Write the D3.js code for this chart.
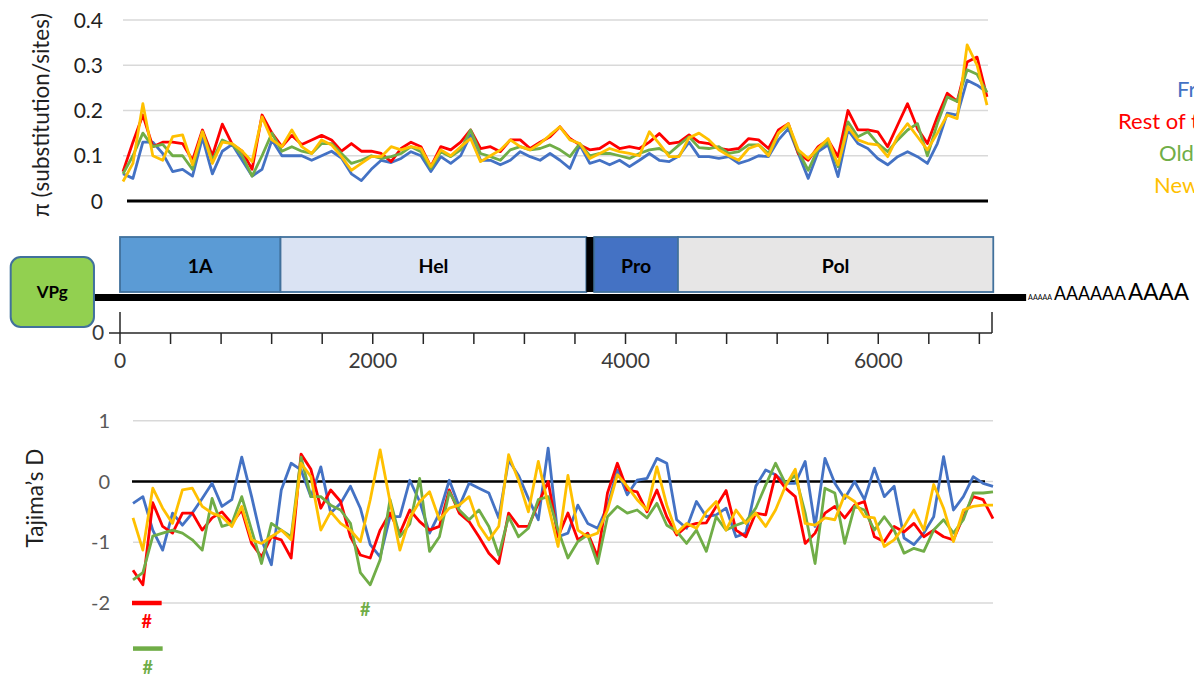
<!DOCTYPE html>
<html>
<head>
<meta charset="utf-8">
<script src="https://cdn.jsdelivr.net/npm/d3@7"></script>
<style>
  body { margin: 0; background: #fff; }
  svg { display: block; }
  text { font-family: Lato, "Open Sans", sans-serif; }
</style>
</head>
<body>
<svg id="chart" width="1194" height="681"></svg>
<script>
// ---- datos ----
const seriesNames = ["France", "Rest of the world", "Old World", "New World"];
const seriesColors = ["#4472c4", "#ff0000", "#70ad47", "#ffc000"];

// nucleotide diversity (pi), one value per sliding window
const piFrance = [0.06,0.05,0.13,0.13,0.105,0.065,0.07,0.055,0.14,0.06,0.11,0.125,0.09,0.055,0.07,0.135,0.1,0.1,0.1,0.09,0.1,0.11,0.095,0.06,0.045,0.07,0.09,0.085,
  0.094,0.109,0.1,0.065,0.098,0.083,0.1,0.146,0.09,0.09,0.08,0.09,0.109,0.098,0.09,0.105,0.09,0.072,0.124,0.083,0.09,0.08,0.09,0.076,0.09,0.105,0.09,0.087,0.1,0.13,0.098,
  0.098,0.094,0.098,0.083,0.09,0.1,0.098,0.135,0.16,0.105,0.05,0.109,0.124,0.054,0.157,0.127,0.116,0.094,0.08,0.098,0.109,0.098,0.083,0.127,0.194,0.19,0.267,0.256,0.24];
const piRest = [0.065,0.13,0.19,0.12,0.13,0.13,0.127,0.09,0.157,0.1,0.17,0.125,0.11,0.07,0.19,0.15,0.12,0.145,0.125,0.135,0.145,0.135,0.11,0.127,0.11,0.11,0.105,0.087,
  0.116,0.13,0.12,0.076,0.12,0.113,0.13,0.157,0.116,0.12,0.109,0.135,0.135,0.116,0.13,0.142,0.164,0.138,0.124,0.113,0.116,0.13,0.116,0.12,0.116,0.13,0.149,0.127,0.13,0.146,0.13,
  0.127,0.116,0.113,0.116,0.138,0.135,0.116,0.157,0.171,0.105,0.09,0.12,0.135,0.098,0.2,0.157,0.157,0.153,0.12,0.168,0.215,0.16,0.127,0.186,0.238,0.22,0.307,0.318,0.23];
const piOld = [0.06,0.1,0.15,0.12,0.125,0.1,0.1,0.07,0.153,0.09,0.135,0.125,0.1,0.055,0.1,0.15,0.11,0.12,0.11,0.105,0.127,0.127,0.105,0.083,0.09,0.1,0.094,0.098,
  0.105,0.12,0.109,0.072,0.109,0.098,0.113,0.157,0.105,0.098,0.09,0.113,0.12,0.113,0.116,0.124,0.113,0.098,0.127,0.1,0.105,0.105,0.1,0.094,0.105,0.113,0.116,0.105,0.124,0.142,0.118,
  0.116,0.12,0.105,0.109,0.124,0.124,0.105,0.15,0.168,0.109,0.068,0.116,0.13,0.076,0.175,0.142,0.153,0.127,0.109,0.135,0.157,0.171,0.1,0.171,0.23,0.22,0.29,0.28,0.24];
const piNew = [0.043,0.083,0.215,0.1,0.09,0.142,0.146,0.08,0.153,0.083,0.13,0.127,0.11,0.087,0.186,0.135,0.12,0.157,0.12,0.105,0.135,0.124,0.098,0.068,0.083,0.098,0.098,0.12,
  0.113,0.12,0.116,0.076,0.113,0.1,0.12,0.138,0.087,0.1,0.113,0.135,0.12,0.113,0.127,0.146,0.164,0.135,0.127,0.094,0.105,0.116,0.109,0.105,0.1,0.153,0.127,0.098,0.098,0.14,0.15,
  0.135,0.113,0.1,0.09,0.116,0.124,0.1,0.15,0.171,0.113,0.094,0.116,0.138,0.08,0.164,0.135,0.127,0.124,0.098,0.142,0.171,0.142,0.113,0.15,0.19,0.182,0.345,0.3,0.212];

// Tajima's D, one value per sliding window
const tdFrance = [-0.36,-0.25,-0.8,-1.13,-0.52,-0.72,-0.52,-0.28,-0.03,-0.41,-0.3,0.4,-0.25,-0.96,-1.37,-0.14,0.3,0.19,-0.25,0.24,-0.52,-0.36,-0.08,-0.44,-1.04,-1.24,-0.58,-0.58,0.02,
  -0.33,-0.85,-0.52,0.02,-0.41,-0.03,-0.11,-0.19,-0.6,0.35,0.1,-0.28,-0.63,0.55,-0.91,-0.85,-0.39,-0.69,-0.77,-0.41,0.19,-0.22,0.02,0.05,0.38,0.3,-0.63,-0.77,-0.33,-0.58,
  -0.55,-0.44,-0.91,-0.85,-0.08,0.19,0.11,-0.03,-0.03,0.33,-0.74,0.38,-0.03,-0.28,0,-0.3,0.22,-0.25,-0.08,-0.93,-1.04,-0.85,-0.58,0.41,-0.47,-0.25,0.08,-0.03,-0.08];
const tdRest = [-1.46,-1.7,-0.35,-0.74,-0.85,-0.52,-0.52,-0.8,-0.6,-0.5,-0.69,-0.47,-1.02,-1.24,-0.91,-0.96,-1.26,0.45,0.2,-0.44,-0.14,-0.33,-0.91,-1.21,-1.26,-0.8,-0.52,-0.85,-0.47,
  -0.66,-0.8,-0.74,-0.14,-0.52,-0.66,-0.91,-1.18,-1.35,-0.52,-0.74,-0.74,-0.36,0,-0.91,-0.52,-0.96,-0.85,-1.24,-0.19,0.3,-0.14,-0.17,-0.5,-0.14,-0.58,-0.88,-0.74,-0.69,-0.68,
  -0.41,-0.15,-0.8,-0.91,-0.52,-0.55,0.11,-0.11,-0.25,-1.02,-0.85,-0.52,-0.41,-0.6,-0.39,-0.33,-0.91,-0.99,-0.74,-0.83,-0.69,-0.91,-0.8,-0.91,-0.96,-0.58,-0.25,-0.3,-0.61];
const tdOld = [-1.62,-1.5,-0.9,-0.85,-0.8,-0.85,-0.96,-1.13,-0.28,-0.74,-0.69,-0.25,-0.8,-1.35,-0.69,-0.8,-0.91,0.4,-0.25,-0.25,-0.39,-0.47,-0.69,-1.5,-1.7,-1.29,-0.3,-0.91,-0.7,
  0.05,-1.15,-0.91,-0.17,-0.47,-0.63,-0.47,-0.74,-1.21,-0.58,-0.91,-0.77,-0.3,-0.25,-0.8,-1.26,-0.99,-0.88,-1.35,-0.58,-0.41,-0.52,-0.47,-0.6,-0.36,-0.72,-0.82,-1.02,-0.8,-1.15,
  -0.58,-0.8,-0.72,-0.66,-0.44,-0.06,0.3,-0.03,0.1,-0.52,-1.35,-0.11,-0.19,-1.02,-0.41,-0.47,-0.8,-0.58,-0.8,-1.18,-1.1,-1.15,-0.8,-0.63,-0.85,-0.63,-0.19,-0.19,-0.17];
const tdNew = [-0.6,-1.13,-0.11,-0.44,-0.69,-0.14,-0.11,-0.41,-0.52,-0.58,-0.74,-0.41,-0.96,-1.02,-0.91,-0.8,-0.96,0.3,0.08,-0.8,-0.5,-0.69,-0.8,-0.99,-0.3,0.52,-0.33,-1.13,-0.6,
  -0.33,-0.17,-0.63,-0.44,-0.39,-0.25,-0.72,-0.96,-0.74,0.44,0.02,-0.5,0.33,-0.39,-1.07,0.1,-0.8,-0.91,-0.85,-0.47,0.11,-0.08,-0.3,-0.47,0.24,-0.39,-0.85,-0.69,-0.77,-0.5,
  -0.33,-0.8,-0.47,-0.69,-0.52,-0.74,-0.47,-0.08,0.2,-0.69,-0.72,-0.6,-0.63,-0.22,-0.33,-0.58,-0.6,-1.07,-0.96,-0.74,-0.47,-0.8,-0.05,-0.44,-0.99,-0.47,-0.41,-0.39,-0.39];

const piTicks = [0, 0.1, 0.2, 0.3, 0.4];
const piTickLabels = ["0", "0.1", "0.2", "0.3", "0.4"];
const tdTicks = [-2, -1, 0, 1];
const tdTickLabels = ["-2", "-1", "0", "1"];

// genome map (nt)
const genomeMax = 6900;
const genomeTicks = d3.range(0, 6801, 400);
const genomeTickLabels = [0, 2000, 4000, 6000];
const genes = [
  { name: "1A",  start: 0,    end: 1270, fill: "#5b9bd5" },
  { name: "Hel", start: 1270, end: 3690, fill: "#dae3f3" },
  { name: "",    start: 3690, end: 3752, fill: "#000000" },
  { name: "Pro", start: 3752, end: 4415, fill: "#4472c4" },
  { name: "Pol", start: 4415, end: 6910, fill: "#e7e6e6" }
];
const vpgSpan = [-865, -206];
const genomeLineSpan = [-206, 7170];
const polyA = [
  { text: "AAAAA",  size: 8,  width: 24 },
  { text: "AAAAAA", size: 20, width: 72 },
  { text: "AAAA",   size: 24, width: 61 }
];

// marcas de significancia (window index, Tajima's D row)
const sigMarks = [
  { series: 1, from: -0.1, to: 2.9, y: -2.0,  hashY: 628 },
  { series: 2, from: 0,    to: 3,   y: -2.75, hashY: 674 },
  { series: 2, from: 23.5, to: 23.5, y: null, hashY: 616 }
];

// ---- dibujo ----
const svg = d3.select("#chart");
const n = piFrance.length;

const xTop = d3.scaleLinear().domain([0, n - 1]).range([123, 987]);
const yTop = d3.scaleLinear().domain([0, 0.4]).range([201, 20]);
const xBot = d3.scaleLinear().domain([0, n - 1]).range([133, 993]);
const yBot = d3.scaleLinear().domain([-2, 1]).range([603, 420.7]);
const xGen = d3.scaleLinear().domain([0, genomeMax]).range([120, 992]);

// --- top chart: pi ---
const gTop = svg.append("g");
gTop.selectAll("line.grid")
  .data(piTicks.filter(t => t > 0))
  .enter().append("line")
  .attr("x1", xTop.range()[0]).attr("x2", xTop.range()[1] + 1)
  .attr("y1", d => yTop(d)).attr("y2", d => yTop(d))
  .attr("stroke", "#d9d9d9").attr("stroke-width", 1.5);
gTop.append("line")
  .attr("x1", xTop.range()[0] + 4).attr("x2", xTop.range()[1] + 1)
  .attr("y1", yTop(0)).attr("y2", yTop(0))
  .attr("stroke", "#000").attr("stroke-width", 3);
gTop.selectAll("text.tick")
  .data(piTicks)
  .enter().append("text")
  .attr("x", 103).attr("y", d => yTop(d))
  .attr("dy", "0.36em")
  .attr("text-anchor", "end")
  .attr("font-size", 21)
  .attr("fill", "#1f1f1f")
  .text((d, i) => piTickLabels[i]);
gTop.append("text")
  .attr("transform", "translate(49,115) rotate(-90)")
  .attr("text-anchor", "middle")
  .attr("font-size", 22.5)
  .attr("fill", "#1f1f1f")
  .text("π (substitution/sites)");

const lineTop = d3.line().x((d, i) => xTop(i)).y(d => yTop(d));
[piFrance, piRest, piOld, piNew].forEach((s, k) => {
  gTop.append("path")
    .attr("d", lineTop(s))
    .attr("fill", "none")
    .attr("stroke", seriesColors[k])
    .attr("stroke-width", 2.8)
    .attr("stroke-linejoin", "round");
});

// leyenda (cortada por el borde derecho, como en el original)
const legendX = [1177, 1118, 1159, 1154];
svg.selectAll("text.legend")
  .data(seriesNames)
  .enter().append("text")
  .attr("x", (d, i) => legendX[i])
  .attr("y", (d, i) => 97 + i * 32)
  .attr("font-size", 22)
  .attr("fill", (d, i) => seriesColors[i])
  .text(d => d);

// --- genome map ---
const gGen = svg.append("g");
gGen.append("line")
  .attr("x1", xGen(genomeLineSpan[0])).attr("x2", xGen(genomeLineSpan[1]))
  .attr("y1", 297.5).attr("y2", 297.5)
  .attr("stroke", "#000").attr("stroke-width", 7);

gGen.selectAll("rect.gene")
  .data(genes)
  .enter().append("rect")
  .attr("x", d => xGen(d.start))
  .attr("width", d => xGen(d.end) - xGen(d.start))
  .attr("y", 237).attr("height", 55)
  .attr("fill", d => d.fill)
  .attr("stroke", d => d.name ? "#41719c" : "none")
  .attr("stroke-width", 1.8);
gGen.selectAll("text.gene")
  .data(genes.filter(d => d.name))
  .enter().append("text")
  .attr("x", d => (xGen(d.start) + xGen(d.end)) / 2)
  .attr("y", 273)
  .attr("text-anchor", "middle")
  .attr("font-size", 19.5)
  .attr("font-weight", "bold")
  .attr("fill", "#000")
  .text(d => d.name);

gGen.append("rect")
  .attr("x", xGen(vpgSpan[0])).attr("width", xGen(vpgSpan[1]) - xGen(vpgSpan[0]))
  .attr("y", 257).attr("height", 70)
  .attr("rx", 10)
  .attr("fill", "#92d050").attr("stroke", "#41719c").attr("stroke-width", 2);
gGen.append("text")
  .attr("x", (xGen(vpgSpan[0]) + xGen(vpgSpan[1])) / 2).attr("y", 298)
  .attr("text-anchor", "middle")
  .attr("font-size", 17).attr("font-weight", "bold")
  .text("VPg");

let ax = xGen(genomeLineSpan[1]) + 2;
polyA.forEach(p => {
  gGen.append("text")
    .attr("x", ax).attr("y", 300)
    .attr("font-size", p.size)
    .attr("textLength", p.width)
    .attr("lengthAdjust", "spacingAndGlyphs")
    .attr("fill", "#000")
    .text(p.text);
  ax += p.width + 2;
});

// eje del genoma
const axY = 333;
gGen.append("line")
  .attr("x1", xGen(0) - 11).attr("x2", xGen(genomeMax))
  .attr("y1", axY).attr("y2", axY)
  .attr("stroke", "#262626").attr("stroke-width", 1.5);
gGen.selectAll("line.gtick")
  .data(genomeTicks)
  .enter().append("line")
  .attr("x1", d => xGen(d)).attr("x2", d => xGen(d))
  .attr("y1", d => d === 0 ? axY - 21 : axY).attr("y2", axY + 11)
  .attr("stroke", "#262626").attr("stroke-width", 1.5);
gGen.append("line")
  .attr("x1", xGen(genomeMax)).attr("x2", xGen(genomeMax))
  .attr("y1", axY - 21).attr("y2", axY)
  .attr("stroke", "#262626").attr("stroke-width", 1.5);
gGen.selectAll("text.gtick")
  .data(genomeTickLabels)
  .enter().append("text")
  .attr("x", d => xGen(d)).attr("y", 368)
  .attr("text-anchor", "middle")
  .attr("font-family", "'Liberation Sans Narrow', 'Liberation Sans', sans-serif")
  .attr("font-size", 21)
  .attr("fill", "#3a3a3a")
  .text(d => d);
gGen.append("text")
  .attr("x", 98).attr("y", axY + 7)
  .attr("text-anchor", "middle")
  .attr("font-family", "'Liberation Sans Narrow', 'Liberation Sans', sans-serif")
  .attr("font-size", 21)
  .attr("fill", "#3a3a3a")
  .text("0");

// --- bottom chart: Tajima's D ---
const gBot = svg.append("g");
gBot.selectAll("line.grid")
  .data(tdTicks)
  .enter().append("line")
  .attr("x1", xBot.range()[0]).attr("x2", xBot.range()[1])
  .attr("y1", d => yBot(d)).attr("y2", d => yBot(d))
  .attr("stroke", "#d9d9d9").attr("stroke-width", 1.5);
gBot.append("line")
  .attr("x1", xBot.range()[0] - 1).attr("x2", xBot.range()[1] - 8)
  .attr("y1", yBot(0)).attr("y2", yBot(0))
  .attr("stroke", "#000").attr("stroke-width", 2.5);
gBot.selectAll("text.tick")
  .data(tdTicks)
  .enter().append("text")
  .attr("x", 110).attr("y", d => yBot(d))
  .attr("dy", "0.36em")
  .attr("text-anchor", "end")
  .attr("font-size", 20)
  .attr("fill", "#595959")
  .text((d, i) => tdTickLabels[i]);
gBot.append("text")
  .attr("transform", "translate(43,498) rotate(-90)")
  .attr("text-anchor", "middle")
  .attr("font-size", 22.5)
  .attr("fill", "#1f1f1f")
  .text("Tajima’s D");

const lineBot = d3.line().x((d, i) => xBot(i)).y(d => yBot(d));
[tdFrance, tdRest, tdOld, tdNew].forEach((s, k) => {
  gBot.append("path")
    .attr("d", lineBot(s))
    .attr("fill", "none")
    .attr("stroke", seriesColors[k])
    .attr("stroke-width", 2.8)
    .attr("stroke-linejoin", "round");
});

// significancia
sigMarks.forEach(m => {
  if (m.y !== null) {
    gBot.append("line")
      .attr("x1", xBot(m.from)).attr("x2", xBot(m.to))
      .attr("y1", yBot(m.y)).attr("y2", yBot(m.y))
      .attr("stroke", seriesColors[m.series]).attr("stroke-width", 4.5);
  }
  gBot.append("text")
    .attr("x", xBot((m.from + m.to) / 2)).attr("y", m.hashY)
    .attr("text-anchor", "middle")
    .attr("font-size", 18).attr("font-weight", "bold")
    .attr("fill", seriesColors[m.series])
    .text("#");
});
</script>
</body>
</html>
